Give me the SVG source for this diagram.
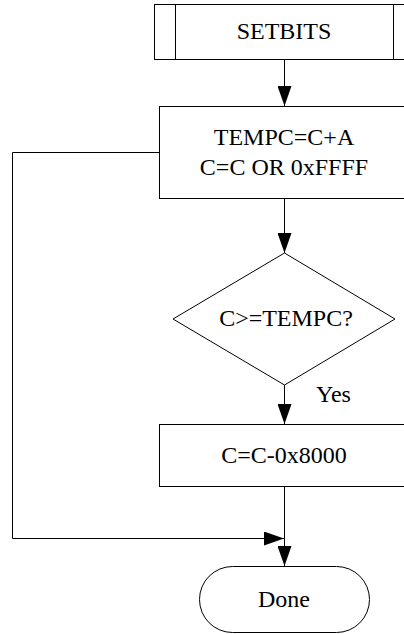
<svg xmlns="http://www.w3.org/2000/svg" width="404" height="634" viewBox="0 0 404 634">
<style>
.shape{fill:#fff;stroke:#000;stroke-width:1}
.edge{fill:none;stroke:#000;stroke-width:1}
text{font-family:"Liberation Serif","Times New Roman",serif;font-size:24px;fill:#000;text-anchor:middle}
</style>
<defs>
<marker id="arr" markerUnits="userSpaceOnUse" markerWidth="20" markerHeight="14" refX="20" refY="7" orient="auto">
<path d="M0,0 L20,7 L0,14 Z" fill="#000"/>
</marker>
</defs>
<rect width="404" height="634" fill="#fff"/>
<g id="connectors">
<line class="edge" x1="284.5" y1="59" x2="284.5" y2="106" marker-end="url(#arr)"/>
<line class="edge" x1="284.5" y1="198" x2="284.5" y2="253" marker-end="url(#arr)"/>
<line class="edge" x1="284.5" y1="385" x2="284.5" y2="424" marker-end="url(#arr)"/>
<line class="edge" x1="284.5" y1="486" x2="284.5" y2="566" marker-end="url(#arr)"/>
<polyline class="edge" points="159,152.5 12.5,152.5 12.5,538.5 284,538.5" marker-end="url(#arr)"/>
<text x="316" y="402" style="text-anchor:start">Yes</text>
</g>
<g id="setbits">
<rect class="shape" x="154.5" y="4.5" width="258" height="55"/>
<line class="edge" x1="175.5" y1="4.5" x2="175.5" y2="59.5"/>
<line class="edge" x1="393.5" y1="4.5" x2="393.5" y2="59.5"/>
<text x="284" y="39">SETBITS</text>
</g>
<g id="process1">
<rect class="shape" x="159.5" y="106.5" width="250" height="92"/>
<text x="284" y="145">TEMPC=C+A</text>
<text x="284" y="175">C=C OR 0xFFFF</text>
</g>
<g id="decision">
<polygon class="shape" points="284.5,253 395,319 284.5,385 173,319"/>
<text x="286" y="326">C&gt;=TEMPC?</text>
</g>
<g id="process2">
<rect class="shape" x="159.5" y="424.5" width="250" height="62"/>
<text x="284" y="463">C=C-0x8000</text>
</g>
<g id="done">
<rect class="shape" x="199.5" y="566.5" width="170" height="66" rx="33" ry="33"/>
<text x="284" y="607">Done</text>
</g>
</svg>
